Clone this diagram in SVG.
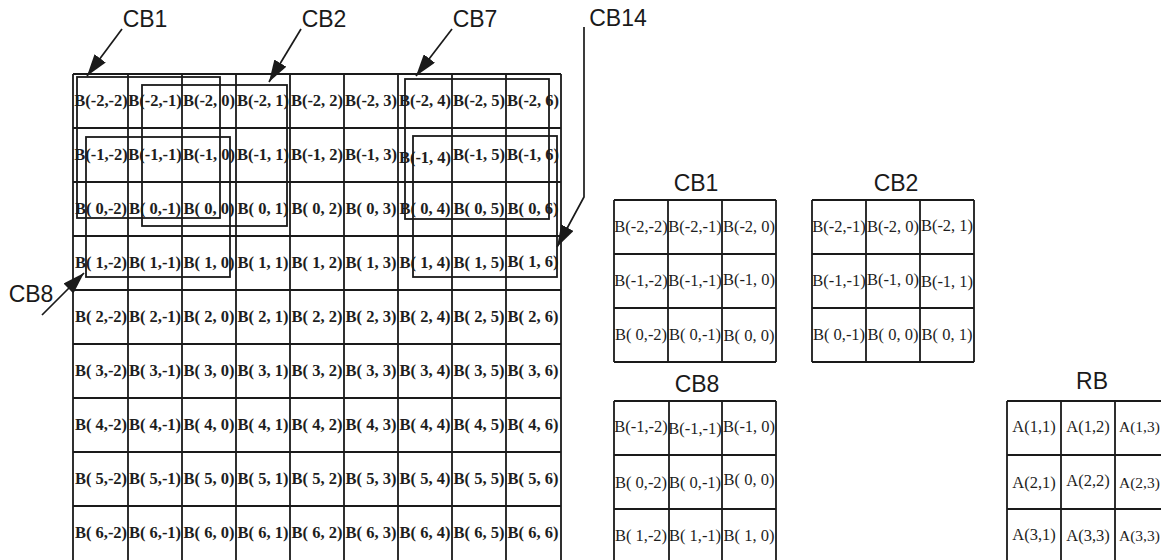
<svg xmlns="http://www.w3.org/2000/svg" width="1161" height="560" viewBox="0 0 1161 560">
<defs>
<marker id="ah" markerUnits="userSpaceOnUse" markerWidth="24" markerHeight="14" refX="22" refY="7" orient="auto">
<path d="M0,0 L22,7 L0,14 z" fill="#1a1a1a"/>
</marker>
<style>
.g{fill:none;stroke:#1a1a1a;stroke-width:1.8}
.o{fill:none;stroke:#1a1a1a;stroke-width:1.8}
.b{font-family:"Liberation Serif",serif;font-weight:bold;font-size:16.5px;fill:#1e1e1e;text-anchor:middle}
.r{font-family:"Liberation Serif",serif;font-size:16.5px;fill:#1e1e1e;text-anchor:middle}
.e{font-family:"Liberation Serif",serif;font-size:15.5px;fill:#1e1e1e;text-anchor:start}
.l{font-family:"Liberation Sans",Arial,sans-serif;font-size:23px;fill:#1a1a1a;text-anchor:middle}
.c{fill:none;stroke:#1a1a1a;stroke-width:1.7;marker-end:url(#ah)}
</style>
</defs>
<rect width="1161" height="560" fill="#fff"/>

<g id="main-grid">
<path class="g" d="M73,74 H561 M73,128 H561 M73,182 H561 M73,236 H561 M73,290 H561 M73,344 H561 M73,398 H561 M73,452 H561 M73,506 H561 M73,74 V560 M128,74 V560 M182,74 V560 M236,74 V560 M290,74 V560 M344,74 V560 M398,74 V560 M452,74 V560 M506,74 V560 M561,74 V560"/>
<g class="b">
<text x="101" y="106">B(-2,-2)</text><text x="155" y="106">B(-2,-1)</text><text x="209" y="106">B(-2, 0)</text><text x="263" y="106">B(-2, 1)</text><text x="317" y="106">B(-2, 2)</text><text x="371" y="106">B(-2, 3)</text><text x="425" y="106">B(-2, 4)</text><text x="479" y="106">B(-2, 5)</text><text x="533" y="106">B(-2, 6)</text>
<text x="101" y="160">B(-1,-2)</text><text x="155" y="160">B(-1,-1)</text><text x="209" y="160">B(-1, 0)</text><text x="263" y="160">B(-1, 1)</text><text x="317" y="160">B(-1, 2)</text><text x="371" y="160">B(-1, 3)</text><text x="425" y="163">B(-1, 4)</text><text x="479" y="160">B(-1, 5)</text><text x="533" y="160">B(-1, 6)</text>
<text x="101" y="214">B( 0,-2)</text><text x="155" y="214">B( 0,-1)</text><text x="209" y="214">B( 0, 0)</text><text x="263" y="214">B( 0, 1)</text><text x="317" y="214">B( 0, 2)</text><text x="371" y="214">B( 0, 3)</text><text x="425" y="214">B( 0, 4)</text><text x="479" y="214">B( 0, 5)</text><text x="533" y="214">B( 0, 6)</text>
<text x="101" y="268">B( 1,-2)</text><text x="155" y="268">B( 1,-1)</text><text x="209" y="268">B( 1, 0)</text><text x="263" y="268">B( 1, 1)</text><text x="317" y="268">B( 1, 2)</text><text x="371" y="268">B( 1, 3)</text><text x="425" y="268">B( 1, 4)</text><text x="479" y="268">B( 1, 5)</text><text x="533" y="267">B( 1, 6)</text>
<text x="101" y="322">B( 2,-2)</text><text x="155" y="322">B( 2,-1)</text><text x="209" y="322">B( 2, 0)</text><text x="263" y="322">B( 2, 1)</text><text x="317" y="322">B( 2, 2)</text><text x="371" y="322">B( 2, 3)</text><text x="425" y="322">B( 2, 4)</text><text x="479" y="322">B( 2, 5)</text><text x="533" y="322">B( 2, 6)</text>
<text x="101" y="376">B( 3,-2)</text><text x="155" y="376">B( 3,-1)</text><text x="209" y="376">B( 3, 0)</text><text x="263" y="376">B( 3, 1)</text><text x="317" y="376">B( 3, 2)</text><text x="371" y="376">B( 3, 3)</text><text x="425" y="376">B( 3, 4)</text><text x="479" y="376">B( 3, 5)</text><text x="533" y="376">B( 3, 6)</text>
<text x="101" y="430">B( 4,-2)</text><text x="155" y="430">B( 4,-1)</text><text x="209" y="430">B( 4, 0)</text><text x="263" y="430">B( 4, 1)</text><text x="317" y="430">B( 4, 2)</text><text x="371" y="430">B( 4, 3)</text><text x="425" y="430">B( 4, 4)</text><text x="479" y="430">B( 4, 5)</text><text x="533" y="430">B( 4, 6)</text>
<text x="101" y="484">B( 5,-2)</text><text x="155" y="484">B( 5,-1)</text><text x="209" y="484">B( 5, 0)</text><text x="263" y="484">B( 5, 1)</text><text x="317" y="484">B( 5, 2)</text><text x="371" y="484">B( 5, 3)</text><text x="425" y="484">B( 5, 4)</text><text x="479" y="484">B( 5, 5)</text><text x="533" y="484">B( 5, 6)</text>
<text x="101" y="538">B( 6,-2)</text><text x="155" y="538">B( 6,-1)</text><text x="209" y="538">B( 6, 0)</text><text x="263" y="538">B( 6, 1)</text><text x="317" y="538">B( 6, 2)</text><text x="371" y="538">B( 6, 3)</text><text x="425" y="538">B( 6, 4)</text><text x="479" y="538">B( 6, 5)</text><text x="533" y="538">B( 6, 6)</text>
</g>
</g>

<g id="overlay-CB1"><rect class="o" x="77" y="77" width="143" height="141"/></g>
<g id="overlay-CB2"><rect class="o" x="142" y="85" width="145" height="141"/></g>
<g id="overlay-CB8"><rect class="o" x="86" y="137" width="144" height="140"/></g>
<g id="overlay-CB7"><rect class="o" x="405" y="79" width="144" height="140"/></g>
<g id="overlay-CB14"><rect class="o" x="413" y="136" width="144" height="141"/></g>

<g id="label-CB1"><text class="l" x="145" y="27">CB1</text></g>
<g id="label-CB2"><text class="l" x="324" y="27">CB2</text></g>
<g id="label-CB7"><text class="l" x="475" y="27">CB7</text></g>
<g id="label-CB14"><text class="l" x="618" y="26">CB14</text></g>
<g id="label-CB8"><text class="l" x="31" y="302">CB8</text></g>

<g id="connectors">
<path class="c" d="M122,29 L87,76"/>
<path class="c" d="M301,29 L269,82"/>
<path class="c" d="M452,29 L416,76"/>
<path class="c" d="M584,27 L584,197 L557,247"/>
<path class="c" d="M42,315 L84,273"/>
</g>

<g id="grid-CB1">
<text class="l" x="696" y="191">CB1</text>
<path class="g" d="M614,200 H776 M614,254 H776 M614,308 H776 M614,362 H776 M614,200 V362 M668,200 V362 M722,200 V362 M776,200 V362"/>
<g class="r">
<text x="641" y="232">B(-2,-2)</text><text x="695" y="232">B(-2,-1)</text><text x="749" y="232">B(-2, 0)</text>
<text x="641" y="286">B(-1,-2)</text><text x="695" y="286">B(-1,-1)</text><text x="749" y="285">B(-1, 0)</text>
<text x="641" y="340">B( 0,-2)</text><text x="695" y="340">B( 0,-1)</text><text x="749" y="341">B( 0, 0)</text>
</g>
</g>

<g id="grid-CB2">
<text class="l" x="896" y="191">CB2</text>
<path class="g" d="M812,200 H974 M812,254 H974 M812,308 H974 M812,362 H974 M812,200 V362 M866,200 V362 M920,200 V362 M974,200 V362"/>
<g class="r">
<text x="839" y="232">B(-2,-1)</text><text x="893" y="232">B(-2, 0)</text><text x="947" y="231">B(-2, 1)</text>
<text x="839" y="286">B(-1,-1)</text><text x="893" y="285">B(-1, 0)</text><text x="947" y="287">B(-1, 1)</text>
<text x="839" y="340">B( 0,-1)</text><text x="893" y="340">B( 0, 0)</text><text x="947" y="340">B( 0, 1)</text>
</g>
</g>

<g id="grid-CB8">
<text class="l" x="697" y="392">CB8</text>
<path class="g" d="M614,401 H776 M614,455 H776 M614,509 H776 M614,401 V560 M669,401 V560 M722,401 V560 M776,401 V560"/>
<g class="r">
<text x="641" y="432">B(-1,-2)</text><text x="695" y="434">B(-1,-1)</text><text x="749" y="432">B(-1, 0)</text>
<text x="641" y="488">B( 0,-2)</text><text x="695" y="488">B( 0,-1)</text><text x="749" y="485">B( 0, 0)</text>
<text x="641" y="541">B( 1,-2)</text><text x="695" y="541">B( 1,-1)</text><text x="749" y="541">B( 1, 0)</text>
</g>
</g>

<g id="grid-RB">
<text class="l" x="1092" y="389">RB</text>
<path class="g" d="M1007,401 H1169 M1007,455 H1169 M1007,509 H1169 M1007,401 V560 M1061,401 V560 M1115,401 V560"/>
<g class="r">
<text x="1034" y="432">A(1,1)</text><text x="1088" y="432">A(1,2)</text>
<text x="1034" y="488">A(2,1)</text><text x="1088" y="486">A(2,2)</text>
<text x="1034" y="540">A(3,1)</text><text x="1088" y="541">A(3,3)</text>
</g>
<g class="e">
<text x="1119" y="432">A(1,3)</text>
<text x="1119" y="488">A(2,3)</text>
<text x="1119" y="541">A(3,3)</text>
</g>
</g>
</svg>
